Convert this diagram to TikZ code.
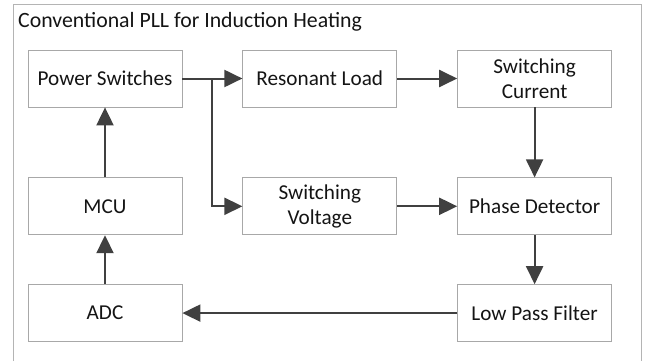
\documentclass[tikz,border=0pt]{standalone}
\usepackage{fontspec}
\setmainfont{Carlito}
\usepackage{tikz}
\usetikzlibrary{positioning,arrows.meta}
\usepackage{xcolor}
\definecolor{framegray}{HTML}{B4B4B4}
\definecolor{boxgray}{HTML}{A8A8A8}
\definecolor{arrgray}{HTML}{404040}
\definecolor{txtgray}{HTML}{141414}

\begin{document}
\begin{tikzpicture}[
  x=1pt, y=-1pt,
  box/.style={draw=boxgray, line width=0.8pt, align=center, text=txtgray,
    font=\fontsize{21.2}{24.5}\selectfont, minimum width=154pt, minimum height=57pt, inner sep=2pt},
  arr/.style={-{Triangle[length=18pt, width=17pt]}, line width=2pt, draw=arrgray},
  node distance=70pt and 60pt]
\useasboundingbox (0,0) rectangle (647,361);
\draw[framegray, line width=0.8pt] (13,361) -- (13,4) -- (641,4) -- (641,361);
\node[anchor=west, text=txtgray, font=\fontsize{21.8}{25}\selectfont, inner sep=0pt] (title) at (18,22) {Conventional PLL for Induction Heating};
\node[box] (pswitch) at (105,78.5) {Power Switches};
\node[box, right=of pswitch] (resload) {Resonant Load};
\node[box, right=of resload] (swcurr) {Switching\\Current};
\node[box, below=of pswitch] (mcu) {MCU};
\node[box, below=of resload] (swvolt) {Switching\\Voltage};
\node[box, below=of swcurr] (phdet) {Phase Detector};
\node[box, below=49pt of mcu] (adc) {ADC};
\node[box, below=49pt of phdet] (lpf) {Low Pass Filter};
\coordinate[right=30pt of pswitch.east] (split);
\draw[arr] (pswitch) -- (resload);
\draw[arr] (split) |- (swvolt.west);
\draw[arr] (resload) -- (swcurr);
\draw[arr] (swcurr) -- (phdet);
\draw[arr] (swvolt) -- (phdet);
\draw[arr] (phdet) -- (lpf);
\draw[arr] (lpf) -- (adc);
\draw[arr] (adc) -- (mcu);
\draw[arr] (mcu) -- (pswitch);
\end{tikzpicture}
\end{document}
